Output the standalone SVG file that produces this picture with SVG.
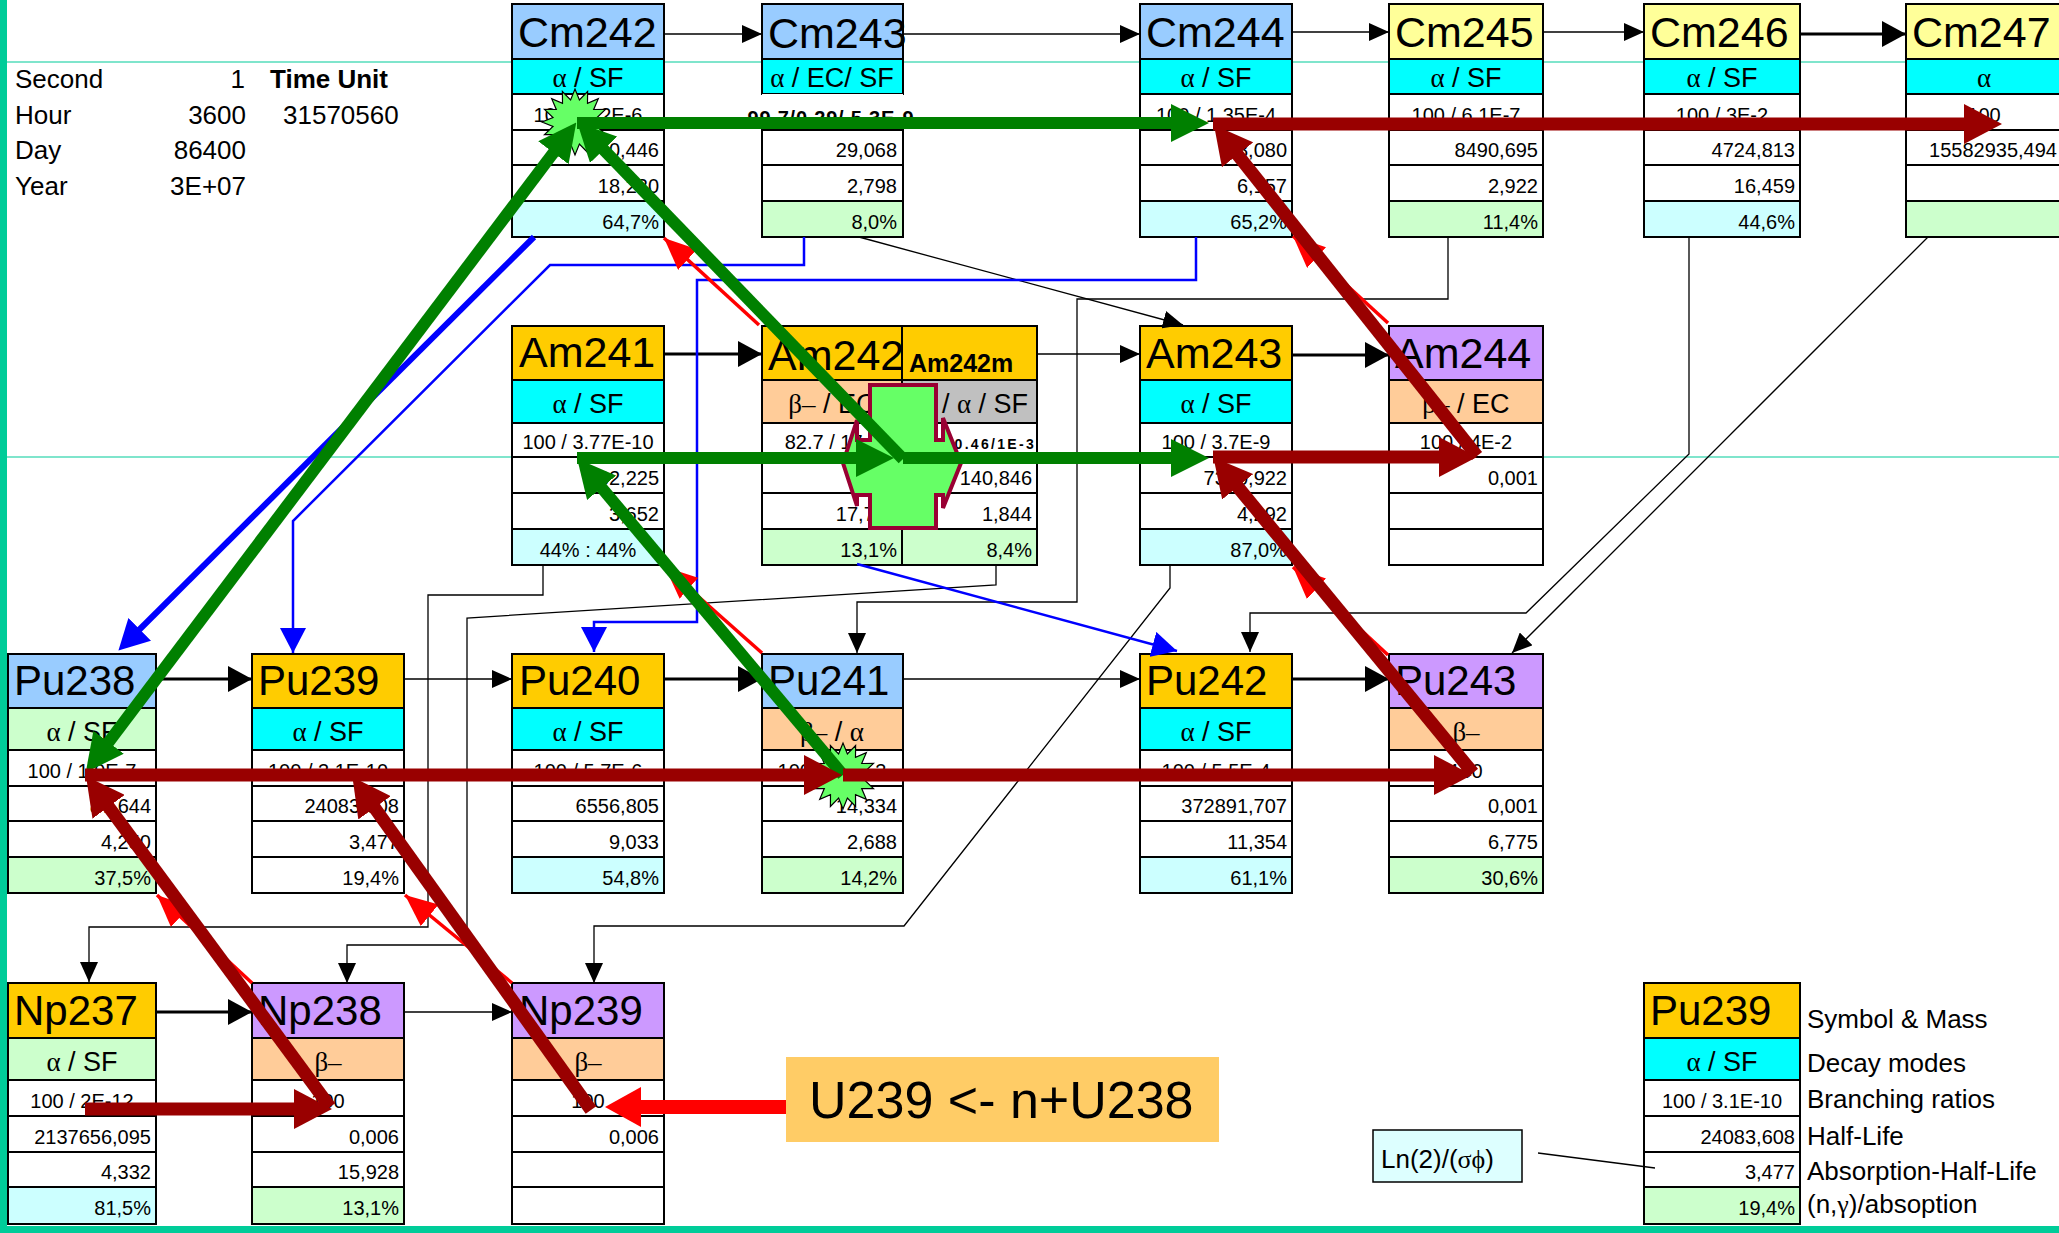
<svg xmlns="http://www.w3.org/2000/svg" width="2059" height="1233" viewBox="0 0 2059 1233">
<style>
text{font-family:"Liberation Sans",Arial,sans-serif;fill:#000}
.g{font-family:"Liberation Serif","DejaVu Serif","Times New Roman",serif}
.hd{font-size:43px}
.hp{font-size:42px}
.dm{font-size:27px;text-anchor:middle}
.dc{font-size:20px;text-anchor:middle}
.dr{font-size:20px;text-anchor:end}
.lg{font-size:26px}
.c{stroke:#000;stroke-width:2}
.fb{fill:#99CCFF}.fy{fill:#FFFF99}.fo{fill:#FFCC00}.fp{fill:#CC99FF}
.fc{fill:#00FFFF}.fpe{fill:#FFCC99}.fg{fill:#CCFFCC}.flc{fill:#CCFFFF}.fw{fill:#FFFFFF}.fgr{fill:#C0C0C0}
.k1{stroke:#000;stroke-width:1.3;fill:none}
.k3{stroke:#000;stroke-width:3;fill:none}
.b2{stroke:#0000FF;stroke-width:2.5;fill:none}
.b6{stroke:#0000FF;stroke-width:6;fill:none}
.r3{stroke:#FF0000;stroke-width:3.5;fill:none}
.gr{stroke:#008000;stroke-width:12;fill:none}
.dk{stroke:#990000;stroke-width:13;fill:none}
.rt{stroke:#FF0000;stroke-width:14;fill:none}
</style>
<defs>
<marker id="ak" markerUnits="userSpaceOnUse" markerWidth="20" markerHeight="18" viewBox="0 0 20 18" refX="20" refY="9" orient="auto"><path d="M0,0L20,9L0,18z" fill="#000"/></marker>
<marker id="akL" markerUnits="userSpaceOnUse" markerWidth="24" markerHeight="26" viewBox="0 0 24 26" refX="24" refY="13" orient="auto"><path d="M0,0L24,13L0,26z" fill="#000"/></marker>
<marker id="ab" markerUnits="userSpaceOnUse" markerWidth="25" markerHeight="26" viewBox="0 0 25 26" refX="25" refY="13" orient="auto"><path d="M0,0L25,13L0,26z" fill="#0000FF"/></marker>
<marker id="abL" markerUnits="userSpaceOnUse" markerWidth="30" markerHeight="32" viewBox="0 0 30 32" refX="1" refY="16" orient="auto"><path d="M0,0L30,16L0,32z" fill="#0000FF"/></marker>
<marker id="ar" markerUnits="userSpaceOnUse" markerWidth="32" markerHeight="28" viewBox="0 0 32 28" refX="32" refY="14" orient="auto"><path d="M0,0L32,14L0,28z" fill="#FF0000"/></marker>
<marker id="arL" markerUnits="userSpaceOnUse" markerWidth="36" markerHeight="40" viewBox="0 0 36 40" refX="1" refY="20" orient="auto"><path d="M0,0L36,20L0,40z" fill="#FF0000"/></marker>
<marker id="ag" markerUnits="userSpaceOnUse" markerWidth="38" markerHeight="38" viewBox="0 0 38 38" refX="1" refY="19" orient="auto-start-reverse"><path d="M0,0L38,19L0,38z" fill="#008000"/></marker>
<marker id="ad" markerUnits="userSpaceOnUse" markerWidth="38" markerHeight="40" viewBox="0 0 38 40" refX="1" refY="20" orient="auto"><path d="M0,0L38,20L0,40z" fill="#990000"/></marker>
<polygon id="star" points="33,0 22,4.4 30.5,12.6 18.7,12.5 23.3,23.3 12.5,18.7 12.6,30.5 4.4,22 0,33 -4.4,22 -12.6,30.5 -12.5,18.7 -23.3,23.3 -18.7,12.5 -30.5,12.6 -22,4.4 -33,0 -22,-4.4 -30.5,-12.6 -18.7,-12.5 -23.3,-23.3 -12.5,-18.7 -12.6,-30.5 -4.4,-22 0,-33 4.4,-22 12.6,-30.5 12.5,-18.7 23.3,-23.3 18.7,-12.5 30.5,-12.6 22,-4.4" fill="#66FF66" stroke="#000" stroke-width="1.2"/>
</defs>

<rect x="0" y="0" width="2059" height="1233" fill="#FFFFFF"/>
<g id="grid">
<line x1="7" y1="62" x2="2059" y2="62" stroke="#00CC99" stroke-width="1.2"/>
<line x1="7" y1="457" x2="2059" y2="457" stroke="#00CC99" stroke-width="1.2"/>
<rect x="0" y="0" width="7" height="1233" fill="#00CC99"/>
<rect x="0" y="1226" width="2059" height="7" fill="#00CC99"/>
</g>

<g id="timeunits">
<text class="lg" x="15" y="88">Second</text><text class="lg" x="245" y="88" text-anchor="end">1</text>
<text class="lg" x="270" y="88" font-weight="bold">Time Unit</text>
<text class="lg" x="15" y="124">Hour</text><text class="lg" x="246" y="124" text-anchor="end">3600</text>
<text class="lg" x="283" y="124">31570560</text>
<text class="lg" x="15" y="159">Day</text><text class="lg" x="246" y="159" text-anchor="end">86400</text>
<text class="lg" x="15" y="195">Year</text><text class="lg" x="246" y="195" text-anchor="end">3E+07</text>
</g>

<!-- Curium row -->
<g id="Cm242">
<rect class="c fb" x="512" y="4" width="152" height="55"/><rect class="c fc" x="512" y="59" width="152" height="35"/>
<rect class="c fw" x="512" y="94" width="152" height="36"/><rect class="c fw" x="512" y="130" width="152" height="35"/>
<rect class="c fw" x="512" y="165" width="152" height="36"/><rect class="c flc" x="512" y="201" width="152" height="36"/>
<text class="hd" x="518" y="47" font-size="42">Cm242</text>
<text class="dm" x="588" y="87"><tspan class="g">α</tspan> / SF</text>
<text class="dc" x="588" y="122">100 / 6.2E-6</text>
<text class="dr" x="659" y="157">0,446</text><text class="dr" x="659" y="193">18,230</text><text class="dr" x="659" y="229">64,7%</text>
</g>
<g id="Cm243">
<rect class="c fb" x="762" y="4" width="141" height="55"/><rect class="c fc" x="762" y="59" width="141" height="35"/>
<rect fill="#FFFFFF" x="762" y="94" width="141" height="36"/><rect class="c fw" x="762" y="130" width="141" height="35"/>
<rect class="c fw" x="762" y="165" width="141" height="36"/><rect class="c fg" x="762" y="201" width="141" height="36"/>
<text class="hd" x="768" y="48" font-size="37">Cm243</text>
<text class="dm" x="832" y="87"><tspan class="g">α</tspan> / EC/ SF</text>
<text class="dc" x="831" y="125" font-size="18.5" font-weight="bold" letter-spacing="0.8">99.7/0.29/ 5.3E-9</text>
<text class="dr" x="897" y="157">29,068</text><text class="dr" x="897" y="193">2,798</text><text class="dr" x="897" y="229">8,0%</text>
</g>
<g id="Cm244">
<rect class="c fb" x="1140" y="4" width="152" height="55"/><rect class="c fc" x="1140" y="59" width="152" height="35"/>
<rect class="c fw" x="1140" y="94" width="152" height="36"/><rect class="c fw" x="1140" y="130" width="152" height="35"/>
<rect class="c fw" x="1140" y="165" width="152" height="36"/><rect class="c flc" x="1140" y="201" width="152" height="36"/>
<text class="hd" x="1146" y="47">Cm244</text>
<text class="dm" x="1216" y="87"><tspan class="g">α</tspan> / SF</text>
<text class="dc" x="1216" y="122">100 / 1.35E-4</text>
<text class="dr" x="1287" y="157">18,080</text><text class="dr" x="1287" y="193">6,157</text><text class="dr" x="1287" y="229">65,2%</text>
</g>
<g id="Cm245">
<rect class="c fy" x="1389" y="4" width="154" height="55"/><rect class="c fc" x="1389" y="59" width="154" height="35"/>
<rect class="c fw" x="1389" y="94" width="154" height="36"/><rect class="c fw" x="1389" y="130" width="154" height="35"/>
<rect class="c fw" x="1389" y="165" width="154" height="36"/><rect class="c fg" x="1389" y="201" width="154" height="36"/>
<text class="hd" x="1395" y="47">Cm245</text>
<text class="dm" x="1466" y="87"><tspan class="g">α</tspan> / SF</text>
<text class="dc" x="1466" y="122">100 / 6.1E-7</text>
<text class="dr" x="1538" y="157">8490,695</text><text class="dr" x="1538" y="193">2,922</text><text class="dr" x="1538" y="229">11,4%</text>
</g>
<g id="Cm246">
<rect class="c fy" x="1644" y="4" width="156" height="55"/><rect class="c fc" x="1644" y="59" width="156" height="35"/>
<rect class="c fw" x="1644" y="94" width="156" height="36"/><rect class="c fw" x="1644" y="130" width="156" height="35"/>
<rect class="c fw" x="1644" y="165" width="156" height="36"/><rect class="c flc" x="1644" y="201" width="156" height="36"/>
<text class="hd" x="1650" y="47">Cm246</text>
<text class="dm" x="1722" y="87"><tspan class="g">α</tspan> / SF</text>
<text class="dc" x="1722" y="122">100 / 3E-2</text>
<text class="dr" x="1795" y="157">4724,813</text><text class="dr" x="1795" y="193">16,459</text><text class="dr" x="1795" y="229">44,6%</text>
</g>
<g id="Cm247">
<rect class="c fy" x="1906" y="4" width="156" height="55"/><rect class="c fc" x="1906" y="59" width="156" height="35"/>
<rect class="c fw" x="1906" y="94" width="156" height="36"/><rect class="c fw" x="1906" y="130" width="156" height="35"/>
<rect class="c fw" x="1906" y="165" width="156" height="36"/><rect class="c fg" x="1906" y="201" width="156" height="36"/>
<text class="hd" x="1912" y="47">Cm247</text>
<text class="dm" x="1984" y="87"><tspan class="g">α</tspan></text>
<text class="dc" x="1984" y="122">100</text>
<text class="dr" x="2057" y="157">15582935,494</text>
</g>

<!-- Americium row -->
<g id="Am241">
<rect class="c fo" x="512" y="326" width="152" height="54"/><rect class="c fc" x="512" y="380" width="152" height="43"/>
<rect class="c fw" x="512" y="423" width="152" height="34"/><rect class="c fw" x="512" y="457" width="152" height="36"/>
<rect class="c fw" x="512" y="493" width="152" height="36"/><rect class="c flc" x="512" y="529" width="152" height="36"/>
<text class="hd" x="519" y="367" font-size="42">Am241</text>
<text class="dm" x="588" y="413"><tspan class="g">α</tspan> / SF</text>
<text class="dc" x="588" y="449">100 / 3.77E-10</text>
<text class="dr" x="659" y="485">432,225</text><text class="dr" x="659" y="521">3,652</text>
<text class="dc" x="588" y="557">44% : 44%</text>
</g>
<g id="Am242">
<rect class="c fo" x="762" y="326" width="140" height="54"/><rect class="c fpe" x="762" y="380" width="140" height="43"/>
<rect class="c fw" x="762" y="423" width="140" height="34"/><rect class="c fw" x="762" y="457" width="140" height="36"/>
<rect class="c fw" x="762" y="493" width="140" height="36"/><rect class="c fg" x="762" y="529" width="140" height="36"/>
<text class="hd" x="768" y="370" font-size="36">Am242</text>
<text class="dm" x="832" y="413"><tspan class="g">β–</tspan> / EC</text>
<text class="dc" x="832" y="449">82.7 / 17.3</text>
<text class="dr" x="897" y="485">0,002</text><text class="dr" x="897" y="521">17,758</text><text class="dr" x="897" y="557">13,1%</text>
</g>
<g id="Am242m">
<rect class="c fo" x="902" y="326" width="135" height="54"/><rect class="c fgr" x="902" y="380" width="135" height="43"/>
<rect class="c fw" x="902" y="423" width="135" height="34"/><rect class="c fw" x="902" y="457" width="135" height="36"/>
<rect class="c fw" x="902" y="493" width="135" height="36"/><rect class="c fg" x="902" y="529" width="135" height="36"/>
<text x="909" y="372" font-size="25" font-weight="bold">Am242m</text>
<text class="dm" x="969.5" y="413">IT / <tspan class="g">α</tspan> / SF</text>
<text x="1036" y="449" font-size="14" font-weight="bold" letter-spacing="2.3" text-anchor="end">99.54/0.46/1E-3</text>
<text class="dr" x="1032" y="485">140,846</text><text class="dr" x="1032" y="521">1,844</text><text class="dr" x="1032" y="557">8,4%</text>
</g>
<g id="Am243">
<rect class="c fo" x="1140" y="326" width="152" height="54"/><rect class="c fc" x="1140" y="380" width="152" height="43"/>
<rect class="c fw" x="1140" y="423" width="152" height="34"/><rect class="c fw" x="1140" y="457" width="152" height="36"/>
<rect class="c fw" x="1140" y="493" width="152" height="36"/><rect class="c flc" x="1140" y="529" width="152" height="36"/>
<text class="hd" x="1146" y="368">Am243</text>
<text class="dm" x="1216" y="413"><tspan class="g">α</tspan> / SF</text>
<text class="dc" x="1216" y="449">100 / 3.7E-9</text>
<text class="dr" x="1287" y="485">7370,922</text><text class="dr" x="1287" y="521">4,292</text><text class="dr" x="1287" y="557">87,0%</text>
</g>
<g id="Am244">
<rect class="c fp" x="1389" y="326" width="154" height="54"/><rect class="c fpe" x="1389" y="380" width="154" height="43"/>
<rect class="c fw" x="1389" y="423" width="154" height="34"/><rect class="c fw" x="1389" y="457" width="154" height="36"/>
<rect class="c fw" x="1389" y="493" width="154" height="36"/><rect class="c fw" x="1389" y="529" width="154" height="36"/>
<text class="hd" x="1395" y="368">Am244</text>
<text class="dm" x="1466" y="413"><tspan class="g">β–</tspan> / EC</text>
<text class="dc" x="1466" y="449">100 / 4E-2</text>
<text class="dr" x="1538" y="485">0,001</text>
</g>

<!-- Plutonium row -->
<g id="Pu238">
<rect class="c fb" x="8" y="654" width="148" height="54"/><rect class="c fg" x="8" y="708" width="148" height="42"/>
<rect class="c fw" x="8" y="750" width="148" height="36"/><rect class="c fw" x="8" y="786" width="148" height="35"/>
<rect class="c fw" x="8" y="821" width="148" height="36"/><rect class="c fg" x="8" y="857" width="148" height="36"/>
<text class="hp" x="14" y="695">Pu238</text>
<text class="dm" x="82" y="741"><tspan class="g">α</tspan> / SF</text>
<text class="dc" x="82" y="778">100 / 1.9E-7</text>
<text class="dr" x="151" y="813">87,644</text><text class="dr" x="151" y="849">4,250</text><text class="dr" x="151" y="885">37,5%</text>
</g>
<g id="Pu239">
<rect class="c fo" x="252" y="654" width="152" height="54"/><rect class="c fc" x="252" y="708" width="152" height="42"/>
<rect class="c fw" x="252" y="750" width="152" height="36"/><rect class="c fw" x="252" y="786" width="152" height="35"/>
<rect class="c fw" x="252" y="821" width="152" height="36"/><rect class="c fw" x="252" y="857" width="152" height="36"/>
<text class="hp" x="258" y="695">Pu239</text>
<text class="dm" x="328" y="741"><tspan class="g">α</tspan> / SF</text>
<text class="dc" x="328" y="778">100 / 3.1E-10</text>
<text class="dr" x="399" y="813">24083,608</text><text class="dr" x="399" y="849">3,477</text><text class="dr" x="399" y="885">19,4%</text>
</g>
<g id="Pu240">
<rect class="c fo" x="512" y="654" width="152" height="54"/><rect class="c fc" x="512" y="708" width="152" height="42"/>
<rect class="c fw" x="512" y="750" width="152" height="36"/><rect class="c fw" x="512" y="786" width="152" height="35"/>
<rect class="c fw" x="512" y="821" width="152" height="36"/><rect class="c flc" x="512" y="857" width="152" height="36"/>
<text class="hp" x="519" y="695">Pu240</text>
<text class="dm" x="588" y="741"><tspan class="g">α</tspan> / SF</text>
<text class="dc" x="588" y="778">100 / 5.7E-6</text>
<text class="dr" x="659" y="813">6556,805</text><text class="dr" x="659" y="849">9,033</text><text class="dr" x="659" y="885">54,8%</text>
</g>
<g id="Pu241">
<rect class="c fb" x="762" y="654" width="141" height="54"/><rect class="c fpe" x="762" y="708" width="141" height="42"/>
<rect class="c fw" x="762" y="750" width="141" height="36"/><rect class="c fw" x="762" y="786" width="141" height="35"/>
<rect class="c fw" x="762" y="821" width="141" height="36"/><rect class="c fg" x="762" y="857" width="141" height="36"/>
<text class="hp" x="768" y="695" font-size="40">Pu241</text>
<text class="dm" x="832" y="741"><tspan class="g">β–</tspan> / <tspan class="g">α</tspan></text>
<text class="dc" x="832" y="778">100 / 2.4E-3</text>
<text class="dr" x="897" y="813">14,334</text><text class="dr" x="897" y="849">2,688</text><text class="dr" x="897" y="885">14,2%</text>
</g>
<g id="Pu242">
<rect class="c fo" x="1140" y="654" width="152" height="54"/><rect class="c fc" x="1140" y="708" width="152" height="42"/>
<rect class="c fw" x="1140" y="750" width="152" height="36"/><rect class="c fw" x="1140" y="786" width="152" height="35"/>
<rect class="c fw" x="1140" y="821" width="152" height="36"/><rect class="c flc" x="1140" y="857" width="152" height="36"/>
<text class="hp" x="1146" y="695">Pu242</text>
<text class="dm" x="1216" y="741"><tspan class="g">α</tspan> / SF</text>
<text class="dc" x="1216" y="778">100 / 5.5E-4</text>
<text class="dr" x="1287" y="813">372891,707</text><text class="dr" x="1287" y="849">11,354</text><text class="dr" x="1287" y="885">61,1%</text>
</g>
<g id="Pu243">
<rect class="c fp" x="1389" y="654" width="154" height="54"/><rect class="c fpe" x="1389" y="708" width="154" height="42"/>
<rect class="c fw" x="1389" y="750" width="154" height="36"/><rect class="c fw" x="1389" y="786" width="154" height="35"/>
<rect class="c fw" x="1389" y="821" width="154" height="36"/><rect class="c fg" x="1389" y="857" width="154" height="36"/>
<text class="hp" x="1395" y="695">Pu243</text>
<text class="dm" x="1466" y="741"><tspan class="g">β–</tspan></text>
<text class="dc" x="1466" y="778">100</text>
<text class="dr" x="1538" y="813">0,001</text><text class="dr" x="1538" y="849">6,775</text><text class="dr" x="1538" y="885">30,6%</text>
</g>

<!-- Neptunium row -->
<g id="Np237">
<rect class="c fo" x="8" y="983" width="148" height="55"/><rect class="c fg" x="8" y="1038" width="148" height="42"/>
<rect class="c fw" x="8" y="1080" width="148" height="36"/><rect class="c fw" x="8" y="1116" width="148" height="36"/>
<rect class="c fw" x="8" y="1152" width="148" height="35"/><rect class="c flc" x="8" y="1187" width="148" height="37"/>
<text class="hp" x="14" y="1025">Np237</text>
<text class="dm" x="82" y="1071"><tspan class="g">α</tspan> / SF</text>
<text class="dc" x="82" y="1108">100 / 2E-12</text>
<text class="dr" x="151" y="1144">2137656,095</text><text class="dr" x="151" y="1179">4,332</text><text class="dr" x="151" y="1215">81,5%</text>
</g>
<g id="Np238">
<rect class="c fp" x="252" y="983" width="152" height="55"/><rect class="c fpe" x="252" y="1038" width="152" height="42"/>
<rect class="c fw" x="252" y="1080" width="152" height="36"/><rect class="c fw" x="252" y="1116" width="152" height="36"/>
<rect class="c fw" x="252" y="1152" width="152" height="35"/><rect class="c fg" x="252" y="1187" width="152" height="37"/>
<text class="hp" x="258" y="1025">Np238</text>
<text class="dm" x="328" y="1071"><tspan class="g">β–</tspan></text>
<text class="dc" x="328" y="1108">100</text>
<text class="dr" x="399" y="1144">0,006</text><text class="dr" x="399" y="1179">15,928</text><text class="dr" x="399" y="1215">13,1%</text>
</g>
<g id="Np239">
<rect class="c fp" x="512" y="983" width="152" height="55"/><rect class="c fpe" x="512" y="1038" width="152" height="42"/>
<rect class="c fw" x="512" y="1080" width="152" height="36"/><rect class="c fw" x="512" y="1116" width="152" height="36"/>
<rect class="c fw" x="512" y="1152" width="152" height="35"/><rect class="c fw" x="512" y="1187" width="152" height="37"/>
<text class="hp" x="519" y="1025">Np239</text>
<text class="dm" x="588" y="1071"><tspan class="g">β–</tspan></text>
<text class="dc" x="588" y="1108">100</text>
<text class="dr" x="659" y="1144">0,006</text>
</g>

<!-- Legend -->
<g id="legend">
<rect class="c fo" x="1644" y="983" width="156" height="55"/><rect class="c fc" x="1644" y="1038" width="156" height="42"/>
<rect class="c fw" x="1644" y="1080" width="156" height="36"/><rect class="c fw" x="1644" y="1116" width="156" height="36"/>
<rect class="c fw" x="1644" y="1152" width="156" height="35"/><rect class="c fg" x="1644" y="1187" width="156" height="37"/>
<text class="hp" x="1650" y="1025">Pu239</text>
<text class="dm" x="1722" y="1071"><tspan class="g">α</tspan> / SF</text>
<text class="dc" x="1722" y="1108">100 / 3.1E-10</text>
<text class="dr" x="1795" y="1144">24083,608</text><text class="dr" x="1795" y="1179">3,477</text><text class="dr" x="1795" y="1215">19,4%</text>
<text class="lg" x="1807" y="1028">Symbol &amp; Mass</text>
<text class="lg" x="1807" y="1072">Decay modes</text>
<text class="lg" x="1807" y="1108">Branching ratios</text>
<text class="lg" x="1807" y="1145">Half-Life</text>
<text class="lg" x="1807" y="1180">Absorption-Half-Life</text>
<text class="lg" x="1807" y="1213">(n,<tspan class="g">γ</tspan>)/absoption</text>
</g>
<g id="formula">
<rect x="1373" y="1130" width="149" height="52" fill="#DDFFFF" stroke="#000" stroke-width="1.5"/>
<text class="lg" x="1381" y="1168">Ln(2)/(<tspan class="g">σϕ</tspan>)</text>
</g>
<g id="source">
<rect x="786" y="1057" width="433" height="85" fill="#FFCC66"/>
<text x="809" y="1118" font-size="52">U239 &lt;- n+U238</text>
</g>

<g id="connectors">
<!-- capture chain arrows -->
<path class="k1" d="M664,34H762" marker-end="url(#ak)"/>
<path class="k1" d="M903,34H1140" marker-end="url(#ak)"/>
<path class="k1" d="M1292,32H1389" marker-end="url(#ak)"/>
<path class="k1" d="M1543,32H1644" marker-end="url(#ak)"/>
<path class="k3" d="M1800,34H1906" marker-end="url(#akL)"/>
<path class="k3" d="M664,354H762" marker-end="url(#akL)"/>
<path class="k1" d="M1037,354H1140" marker-end="url(#ak)"/>
<path class="k3" d="M1292,355H1389" marker-end="url(#akL)"/>
<path class="k3" d="M156,679H252" marker-end="url(#akL)"/>
<path class="k1" d="M404,679H512" marker-end="url(#ak)"/>
<path class="k3" d="M664,679H762" marker-end="url(#akL)"/>
<path class="k1" d="M903,679H1140" marker-end="url(#ak)"/>
<path class="k3" d="M1292,679H1389" marker-end="url(#akL)"/>
<path class="k3" d="M156,1012H252" marker-end="url(#akL)"/>
<path class="k1" d="M404,1012H512" marker-end="url(#ak)"/>
<!-- decay paths -->
<path class="k1" d="M859,237L1183,325" marker-end="url(#ak)"/>
<path class="k1" d="M1448,237V299H1077V602H857V653" marker-end="url(#ak)"/>
<path class="k1" d="M996,565V585L467,618V945H347V983" marker-end="url(#ak)"/>
<path class="k1" d="M543,565V595H428V927H89V982" marker-end="url(#ak)"/>
<path class="k1" d="M1170,565V588L904,926H594V983" marker-end="url(#ak)"/>
<path class="k1" d="M1689,237V454L1526,613H1250V652" marker-end="url(#ak)"/>
<path class="k1" d="M1928,237L1512,653" marker-end="url(#ak)"/>
<path class="k1" d="M1538,1153L1655,1168"/>
<!-- blue -->
<path class="b6" d="M534,237L139,630" marker-end="url(#abL)"/>
<path class="b2" d="M804,237V265H550L293,521V653" marker-end="url(#ab)"/>
<path class="b2" d="M1196,237V280H697V622H594V652" marker-end="url(#ab)"/>
<path class="b2" d="M857,564L1177,651" marker-end="url(#ab)"/>
<!-- red thin -->
<path class="r3" d="M759,325L664,238" marker-end="url(#ar)"/>
<path class="r3" d="M1388,323L1293,236" marker-end="url(#ar)"/>
<path class="r3" d="M762,653L665,567" marker-end="url(#ar)"/>
<path class="r3" d="M1388,655L1293,567" marker-end="url(#ar)"/>
<path class="r3" d="M252,983L157,895" marker-end="url(#ar)"/>
<path class="r3" d="M512,983L405,895" marker-end="url(#ar)"/>
<!-- markers: stars and cross -->
<use href="#star" x="575" y="122"/>
<use href="#star" x="843" y="776"/>
<polygon points="870,385 936,385 936,440 943,440 943,418 961,463 943,508 943,495 936,495 936,528 870,528 870,495 857,495 857,506 843,463 857,420 857,440 870,440" fill="#66FF66" stroke="#990033" stroke-width="4"/>
<!-- green -->
<path class="gr" d="M577,123H1172" marker-end="url(#ag)"/>
<path class="gr" d="M903,459L603,149" marker-end="url(#ag)"/>
<path class="gr" d="M108,743L554,152" marker-start="url(#ag)" marker-end="url(#ag)"/>
<path class="gr" d="M577,458H857" marker-end="url(#ag)"/>
<path class="gr" d="M903,458H1172" marker-end="url(#ag)"/>
<path class="gr" d="M843,775L601,487" marker-end="url(#ag)"/>
<!-- dark red -->
<path class="dk" d="M1213,124H1965" marker-end="url(#ad)"/>
<path class="dk" d="M1477,456L1237,154" marker-end="url(#ad)"/>
<path class="dk" d="M1213,457H1440" marker-end="url(#ad)"/>
<path class="dk" d="M1473,773L1237,486" marker-end="url(#ad)"/>
<path class="dk" d="M85,775H805" marker-end="url(#ad)"/>
<path class="dk" d="M843,775H1435" marker-end="url(#ad)"/>
<path class="dk" d="M330,1107L108,806" marker-end="url(#ad)"/>
<path class="dk" d="M85,1109H295" marker-end="url(#ad)"/>
<path class="dk" d="M591,1110L374,807" marker-end="url(#ad)"/>
<!-- source arrow -->
<path class="rt" d="M786,1107H640" marker-end="url(#arL)"/>
</g>
</svg>
